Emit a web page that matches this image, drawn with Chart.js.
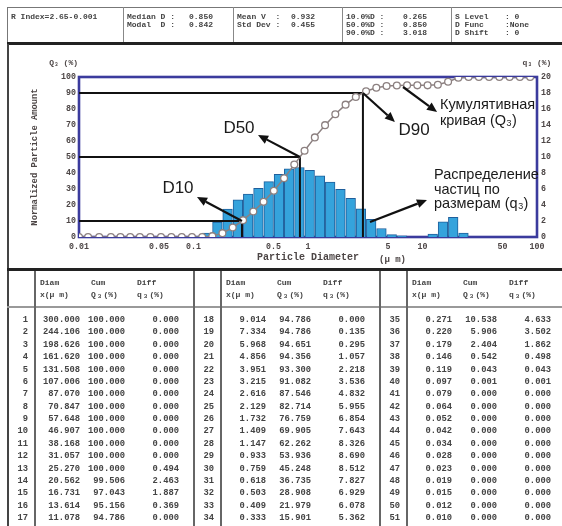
<!DOCTYPE html>
<html><head><meta charset="utf-8">
<script src="https://cdn.jsdelivr.net/npm/chart.js@4.4.1/dist/chart.umd.min.js"></script>
<style>
html,body{margin:0;padding:0;background:#fff;}
#page{position:relative;width:562px;height:526px;overflow:hidden;background:#fff;
  font-family:"Liberation Mono","DejaVu Sans Mono",monospace;font-weight:bold;color:#444;}
#chartWrap{position:absolute;left:0;top:44px;width:562px;height:224px;}
.t{position:absolute;white-space:pre;line-height:10px;}
.h{font-size:8px;line-height:9px;}
.d{font-size:8.8px;}
.r{text-align:right;width:70px;}
.ln{position:absolute;}
sub{font-size:6px;vertical-align:-1px;margin:0 2px;}
</style></head>
<body><div id="page">
<div id="chartWrap"><canvas id="c"></canvas></div>
</div>
<script>
// ---------- data ----------
const diam = [300.000,244.106,198.626,161.620,131.508,107.006,87.070,70.847,57.648,46.907,38.168,31.057,25.270,20.562,16.731,13.614,11.078,
  9.014,7.334,5.968,4.856,3.951,3.215,2.616,2.129,1.732,1.409,1.147,0.933,0.759,0.618,0.503,0.409,0.333,
  0.271,0.220,0.179,0.146,0.119,0.097,0.079,0.064,0.052,0.042,0.034,0.028,0.023,0.019,0.015,0.012,0.010];
const cumQ3 = [100,100,100,100,100,100,100,100,100,100,100,100,100,99.506,97.043,95.156,94.786,
  94.786,94.786,94.651,94.356,93.300,91.082,87.546,82.714,76.759,69.905,62.262,53.936,45.248,36.735,28.908,21.979,15.901,
  10.538,5.906,2.404,0.542,0.043,0.001,0,0,0,0,0,0,0,0,0,0,0];
const diffQ3 = [0,0,0,0,0,0,0,0,0,0,0,0,0.494,2.463,1.887,0.369,0.000,
  0.000,0.135,0.295,1.057,2.218,3.536,4.832,5.955,6.854,7.643,8.326,8.690,8.512,7.827,6.929,6.078,5.362,
  4.633,3.502,1.862,0.498,0.043,0.001,0,0,0,0,0,0,0,0,0,0,0];
const xTickValues = [0.01,0.05,0.1,0.5,1,5,10,50,100];
const xTickLabels = ['0.01','0.05','0.1','0.5','1','5','10','50','100'];
const dNames = ['D10','D50','D90'];
const dSizes = [0.265,0.850,3.018];
const dLevels = [10,50,90];
const xMin = 0.01, xMax = 100;

const hdrLabels = [['R Index=2.65-0.001'],['Median D :','Modal  D :'],['Mean V  :','Std Dev :'],
  ['10.0%D :','50.0%D :','90.0%D :'],['S Level','D Func','D Shift']];
const hdrValues = [[],['0.850','0.842'],['0.932','0.455'],['0.265','0.850','3.018'],[': 0',':None',': 0']];

// ---------- page layout (HTML parts) ----------
const page = document.getElementById('page');
function el(cls, html, style){const d=document.createElement('div');d.className=cls;d.innerHTML=html;Object.assign(d.style,style);page.appendChild(d);return d;}
function line(l,t,w,h,c){el('ln','',{left:l+'px',top:t+'px',width:w+'px',height:h+'px',background:c});}

// header box
const cellX = [7,123,233,342,451];
const valRight = [0,213,315,427,0];
const rowY = [11.5,19.8,28.1];
line(7,7,560,1,'#777'); line(7,7,1,37,'#777');
for (let i=1;i<cellX.length;i++) line(cellX[i],7,1,36,'#888');
line(7,42,560,3,'#222');
hdrLabels.forEach((rows,ci)=>{
  rows.forEach((txt,ri)=>{
    el('t h',txt,{left:(cellX[ci]+4)+'px',top:rowY[ri]+'px'});
    const v = hdrValues[ci][ri];
    if (v!==undefined){
      if (ci===4) el('t h',v,{left:'505px',top:rowY[ri]+'px'});
      else el('t h r',v,{left:(valRight[ci]-70)+'px',top:rowY[ri]+'px'});
    }
  });
});

// chart region / table borders
line(7,44,1.5,482,'#444');
line(7,268,555,3,'#222');
line(7,306,555,2,'#999');
const groupX = [7,193,379];
groupX.forEach((gx,g)=>{
  if (g>0) line(gx,271,1.5,255,'#666');
  line(gx+27,271,1.5,255,'#666');
  el('t d','Diam',{left:(gx+33)+'px',top:'278px',fontSize:'8px'});
  el('t d','x(μ m)',{left:(gx+33)+'px',top:'290px',fontSize:'8px'});
  el('t d','Cum',{left:(gx+84)+'px',top:'278px',fontSize:'8px'});
  el('t d','Q<sub>3</sub>(%)',{left:(gx+84)+'px',top:'290px',fontSize:'8px'});
  el('t d','Diff',{left:(gx+130)+'px',top:'278px',fontSize:'8px'});
  el('t d','q<sub>3</sub>(%)',{left:(gx+130)+'px',top:'290px',fontSize:'8px'});
  for (let r=0;r<17;r++){
    const i = g*17+r, top = 315 + r*12.375;
    el('t d r',String(i+1),{left:(gx+21-70)+'px',top:top+'px'});
    el('t d r',diam[i].toFixed(3),{left:(gx+73-70)+'px',top:top+'px'});
    el('t d r',cumQ3[i].toFixed(3),{left:(gx+118-70)+'px',top:top+'px'});
    el('t d r',diffQ3[i].toFixed(3),{left:(gx+172-70)+'px',top:top+'px'});
  }
});

// ---------- chart ----------
const cumPts = diam.map((d,i)=>({x:d,y:cumQ3[i]})).filter(p=>p.x<=xMax).reverse();
const barPts = diam.slice(0,-1).map((d,i)=>({x:Math.sqrt(d*diam[i+1]),y:diffQ3[i]})).filter(p=>p.x<=xMax).reverse();
const dDatasets = dSizes.map((d,i)=>({type:'line',label:dNames[i],yAxisID:'y',
  data:[{x:xMin,y:dLevels[i]},{x:d,y:dLevels[i]},{x:d,y:0}],
  borderColor:'#111',borderWidth:2,pointRadius:0,order:2,tension:0}));

const MONO = '"Liberation Mono","DejaVu Sans Mono",monospace';
const SANS = '"Liberation Sans",Arial,"DejaVu Sans",sans-serif';
const axisColor = '#4d4646';

const annotations = {
  texts: [
    {lines:['D10'],x:0.0732,y:30.6,axis:'y',size:17,align:'center'},
    {lines:['D50'],x:0.2496,y:68.1,axis:'y',size:17,align:'center'},
    {lines:['D90'],x:8.43,y:66.9,axis:'y',size:17,align:'center'},
    {lines:['Кумулятивная','кривая (Q₃)'],x:14.2,y:82.5,axis:'y',size:14.5,align:'left',lh:16},
    {lines:['Распределение','частиц по','размерам (q₃)'],x:12.6,y:7.75,axis:'y2',size:14.5,align:'left',lh:14.5}
  ],
  arrows: [
    {from:[0.265,10],to:[0.1073,25],axis:'y'},
    {from:[0.85,50],to:[0.366,63.75],axis:'y'},
    {from:[3.018,90],to:[5.75,71.9],axis:'y'},
    {from:[6.76,93.75],to:[13.4,78.1],axis:'y'},
    {from:[3.48,1.875],to:[10.94,4.625],axis:'y2'}
  ]
};

function drawArrow(ctx,x1,y1,x2,y2){
  const a = Math.atan2(y2-y1,x2-x1), hl=10, hw=4.5;
  const bx = x2-hl*Math.cos(a), by = y2-hl*Math.sin(a);
  ctx.beginPath();ctx.moveTo(x1,y1);ctx.lineTo(bx,by);ctx.stroke();
  ctx.beginPath();ctx.moveTo(x2,y2);
  ctx.lineTo(bx+hw*Math.sin(a),by-hw*Math.cos(a));
  ctx.lineTo(bx-hw*Math.sin(a),by+hw*Math.cos(a));
  ctx.closePath();ctx.fill();
}

const framePlugin = {
  id:'frame',
  beforeDatasetsDraw(chart){
    const {ctx,chartArea:a} = chart;
    ctx.save();ctx.strokeStyle='#3b3b9d';ctx.lineWidth=2.6;
    ctx.strokeRect(a.left,a.top,a.right-a.left,a.bottom-a.top);ctx.restore();
  },
  afterDraw(chart){
    const {ctx,chartArea:a,scales} = chart;
    ctx.save();
    // axis unit titles
    ctx.fillStyle=axisColor;ctx.font='bold 8px '+MONO;ctx.textBaseline='middle';
    ctx.textAlign='right';ctx.fillText('Q₃ (%)',a.left-1,a.top-14);
    ctx.textAlign='center';ctx.fillText('q₃ (%)',a.right,a.top-14);
    ctx.font='bold 9px '+MONO;ctx.textAlign='left';
    ctx.fillText('(μ m)',a.left+(a.right-a.left)*0.655,216);
    // arrows
    ctx.strokeStyle='#111';ctx.fillStyle='#111';ctx.lineWidth=2.2;
    annotations.arrows.forEach(ar=>{
      const ys = scales[ar.axis];
      drawArrow(ctx,scales.x.getPixelForValue(ar.from[0]),ys.getPixelForValue(ar.from[1]),
        scales.x.getPixelForValue(ar.to[0]),ys.getPixelForValue(ar.to[1]));
    });
    // texts
    ctx.fillStyle='#1a1a1a';ctx.textBaseline='middle';
    annotations.texts.forEach(t=>{
      ctx.font=t.size+'px '+SANS;ctx.textAlign=t.align;
      const px = scales.x.getPixelForValue(t.x), py = scales[t.axis].getPixelForValue(t.y);
      t.lines.forEach((s,k)=>ctx.fillText(s,px,py+k*(t.lh||0)));
    });
    ctx.restore();
  }
};

Chart.defaults.font.family = MONO;
new Chart(document.getElementById('c'),{
  type:'bar',
  data:{datasets:[
    {type:'line',label:'Q3',yAxisID:'y',data:cumPts,borderColor:'#8c8080',borderWidth:1.5,
     pointRadius:3.4,pointBackgroundColor:'#fff',pointBorderColor:'#8c8080',pointBorderWidth:1.3,order:1,tension:0},
    ...dDatasets,
    {type:'bar',label:'q3',yAxisID:'y2',data:barPts,backgroundColor:'#35a3dc',borderColor:'#1f5f9c',
     borderWidth:1,borderSkipped:'start',barPercentage:1,categoryPercentage:1,order:3}
  ]},
  options:{
    responsive:true,maintainAspectRatio:false,animation:false,events:[],
    layout:{padding:{top:33,left:0,right:0,bottom:0}},
    plugins:{legend:{display:false},tooltip:{enabled:false}},
    scales:{
      x:{type:'logarithmic',min:xMin,max:xMax,offset:false,
        grid:{display:false,drawTicks:false,offset:false},border:{display:false},
        afterBuildTicks:s=>{s.ticks=xTickValues.map(v=>({value:v}));},
        afterFit:s=>{s.height=31;},
        ticks:{autoSkip:false,maxRotation:0,padding:5,color:axisColor,font:{size:8.3,weight:'bold'},
          callback:(v,i)=>xTickLabels[i]},
        title:{display:true,text:'Particle Diameter',color:axisColor,font:{size:10,weight:'bold'},padding:{top:0,bottom:5}}
      },
      y:{position:'left',min:0,max:100,
        grid:{display:false,drawTicks:false},border:{display:false},
        afterFit:s=>{s.width=79;},
        ticks:{stepSize:10,padding:3,color:axisColor,font:{size:8.3,weight:'bold'}},
        title:{display:true,text:'Normalized Particle Amount',color:axisColor,font:{size:8.8,weight:'bold'},padding:{top:30,bottom:0}}
      },
      y2:{position:'right',min:0,max:20,
        grid:{display:false,drawTicks:false},border:{display:false},
        afterFit:s=>{s.width=25;},
        ticks:{stepSize:2,padding:4,color:axisColor,font:{size:8.3,weight:'bold'}}
      }
    }
  },
  plugins:[framePlugin]
});
</script>
</body></html>
